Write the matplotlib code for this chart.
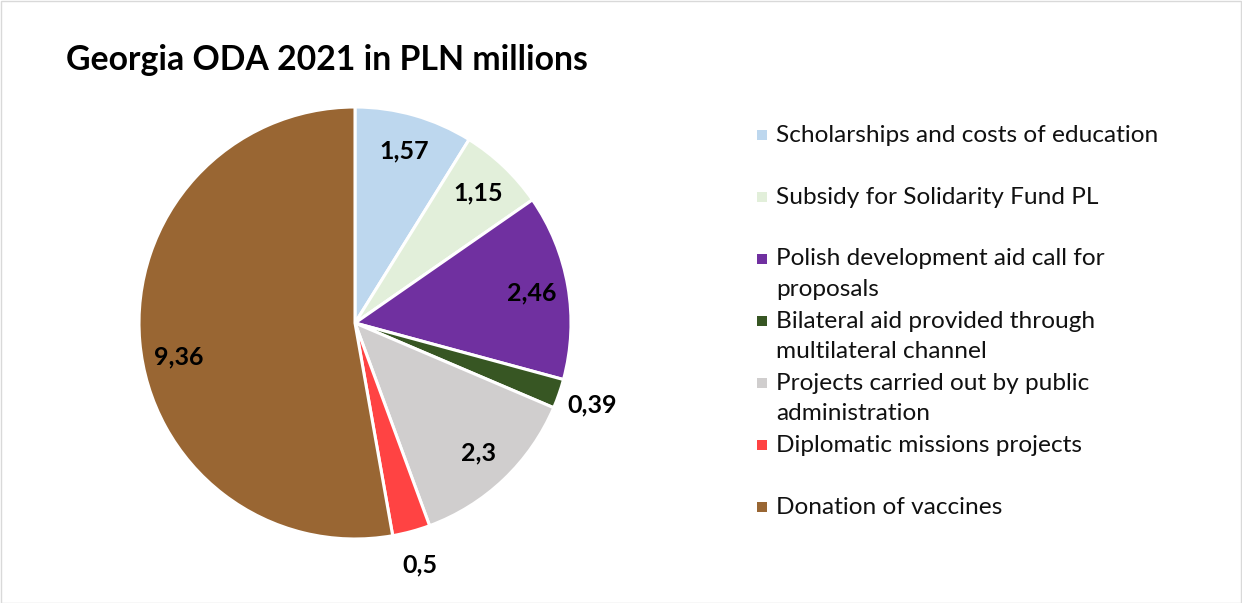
#!/usr/bin/env python3
"""Georgia ODA 2021 pie chart (PLN millions)."""

import numpy as np
import matplotlib
matplotlib.use("Agg")
import matplotlib.pyplot as plt
from matplotlib.patches import Rectangle

plt.rcParams["font.family"] = ["Lato", "DejaVu Sans"]

# Data
categories = [
    "Scholarships and costs of education",
    "Subsidy for Solidarity Fund PL",
    "Polish development aid call for\nproposals",
    "Bilateral aid provided through\nmultilateral channel",
    "Projects carried out by public\nadministration",
    "Diplomatic missions projects",
    "Donation of vaccines",
]
values = [1.57, 1.15, 2.46, 0.39, 2.3, 0.5, 9.36]
value_labels = ["1,57", "1,15", "2,46", "0,39", "2,3", "0,5", "9,36"]
colors = ["#BDD7EE", "#E2EFDA", "#7030A0", "#375623", "#D0CECE", "#FF4343", "#996633"]

W, H = 1242, 603
fig = plt.figure(figsize=(W / 100, H / 100), dpi=100)

# thin frame around the chart area
fig.patches.append(Rectangle((0.5 / W, 0.5 / H), 1 - 1.5 / W, 1 - 1.5 / H,
                             transform=fig.transFigure, fill=False,
                             edgecolor="#D9D9D9", linewidth=1))

fig.text(66 / W, 1 - 60 / H, "Georgia ODA 2021 in PLN millions",
         fontsize=24.3, fontweight="bold", va="center", ha="left")

# pie axes
cx, cy, r = 355, 323, 216
ax = fig.add_axes([(cx - r) / W, (H - cy - r) / H, 2 * r / W, 2 * r / H])
wedges, _ = ax.pie(values, colors=colors, startangle=90, counterclock=False,
                   radius=1.0,
                   wedgeprops=dict(edgecolor="white", linewidth=2.2))
ax.set_xlim(-1, 1)
ax.set_ylim(-1, 1)
ax.set_aspect("equal")
ax.axis("off")

for w, lab, v in zip(wedges, value_labels, values):
    mid = np.deg2rad((w.theta1 + w.theta2) / 2)
    if v > 5:
        mid += np.deg2rad(6)
    dist = 1.16 if v < 1 else 0.83
    ax.text(dist * np.cos(mid), dist * np.sin(mid), lab, ha="center", va="center",
            fontsize=18, fontweight="bold", clip_on=False)

# legend
y0, step = 135, 62
for i, (cat, col) in enumerate(zip(categories, colors)):
    y = y0 + step * i
    fig.patches.append(Rectangle((757 / W, 1 - (y + 5) / H), 10 / W, 10 / H,
                                 transform=fig.transFigure, facecolor=col,
                                 edgecolor="none"))
    for j, line in enumerate(cat.split("\n")):
        fig.text(776 / W, 1 - (y + 31 * j) / H, line, fontsize=17.6,
                 va="center", ha="left", color="#111111")

fig.savefig("out.png", dpi=100)
